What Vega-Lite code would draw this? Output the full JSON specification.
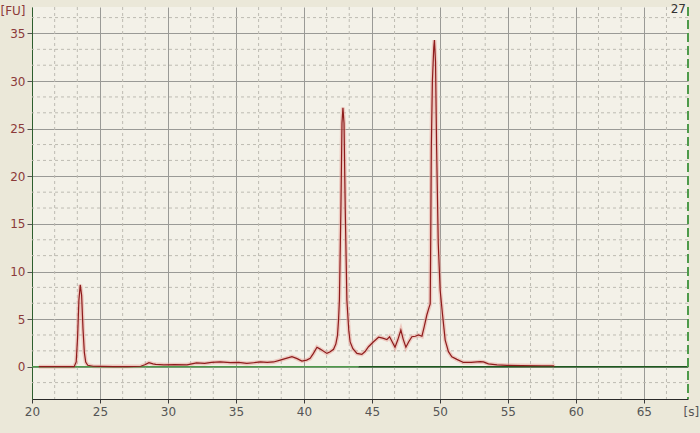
{
  "$schema": "https://vega.github.io/schema/vega-lite/v6.json",
  "width": 656,
  "height": 392,
  "autosize": {"type": "none"},
  "padding": {"left": 32, "top": 7, "right": 12, "bottom": 34},
  "background": "#EBE8D9",
  "config": {
    "view": {"stroke": null, "fill": "#F3F1E8"},
    "font": "DejaVu Sans",
    "axis": {"labelFont": "DejaVu Sans", "titleFont": "DejaVu Sans", "labelFontSize": 11, "titleFontSize": 11, "titleFontWeight": "normal", "labelFlush": false}
  },
  "datasets": {
    "trace": [
      {"t": 20.5, "v": 0}, {"t": 23.1, "v": 0}, {"t": 23.25, "v": 0.5}, {"t": 23.35, "v": 3}, {"t": 23.45, "v": 7},
      {"t": 23.55, "v": 8.6}, {"t": 23.65, "v": 7.5}, {"t": 23.75, "v": 4}, {"t": 23.85, "v": 1.5}, {"t": 23.95, "v": 0.5},
      {"t": 24.1, "v": 0.15}, {"t": 24.5, "v": 0.05}, {"t": 25, "v": 0.03}, {"t": 26, "v": 0.02}, {"t": 27, "v": 0.02},
      {"t": 28, "v": 0.05}, {"t": 28.3, "v": 0.2}, {"t": 28.6, "v": 0.42}, {"t": 28.9, "v": 0.3}, {"t": 29.1, "v": 0.25},
      {"t": 29.7, "v": 0.2}, {"t": 30.5, "v": 0.22}, {"t": 31.4, "v": 0.2}, {"t": 32.1, "v": 0.4}, {"t": 32.7, "v": 0.35},
      {"t": 33.2, "v": 0.45}, {"t": 33.85, "v": 0.5}, {"t": 34.6, "v": 0.42}, {"t": 35.2, "v": 0.45}, {"t": 35.8, "v": 0.35},
      {"t": 36.3, "v": 0.42}, {"t": 36.8, "v": 0.5}, {"t": 37.3, "v": 0.45}, {"t": 37.77, "v": 0.5}, {"t": 38.26, "v": 0.7},
      {"t": 38.5, "v": 0.8}, {"t": 39.12, "v": 1.05}, {"t": 39.5, "v": 0.85}, {"t": 39.85, "v": 0.6}, {"t": 40.2, "v": 0.7},
      {"t": 40.46, "v": 0.88}, {"t": 40.7, "v": 1.4}, {"t": 40.96, "v": 2.04}, {"t": 41.2, "v": 1.85}, {"t": 41.69, "v": 1.4},
      {"t": 41.9, "v": 1.55}, {"t": 42.18, "v": 1.83}, {"t": 42.35, "v": 2.4}, {"t": 42.47, "v": 3.3}, {"t": 42.55, "v": 5},
      {"t": 42.61, "v": 7}, {"t": 42.72, "v": 16.5}, {"t": 42.8, "v": 25.6}, {"t": 42.87, "v": 27.2}, {"t": 42.95, "v": 25.6},
      {"t": 43.04, "v": 16.5}, {"t": 43.16, "v": 7}, {"t": 43.3, "v": 3.8}, {"t": 43.4, "v": 2.6}, {"t": 43.6, "v": 1.9},
      {"t": 43.9, "v": 1.4}, {"t": 44.26, "v": 1.3}, {"t": 44.5, "v": 1.6}, {"t": 44.75, "v": 2.1}, {"t": 45.1, "v": 2.6},
      {"t": 45.49, "v": 3.1}, {"t": 45.8, "v": 3.0}, {"t": 46.1, "v": 2.85}, {"t": 46.3, "v": 3.15}, {"t": 46.5, "v": 2.6},
      {"t": 46.7, "v": 2.04}, {"t": 46.9, "v": 2.8}, {"t": 47.13, "v": 3.85}, {"t": 47.3, "v": 2.9}, {"t": 47.5, "v": 2.04},
      {"t": 47.7, "v": 2.6}, {"t": 47.94, "v": 3.15}, {"t": 48.2, "v": 3.2}, {"t": 48.43, "v": 3.33}, {"t": 48.68, "v": 3.2},
      {"t": 48.85, "v": 4.2}, {"t": 49.04, "v": 5.43}, {"t": 49.2, "v": 6.2}, {"t": 49.29, "v": 6.6}, {"t": 49.33, "v": 14},
      {"t": 49.37, "v": 23}, {"t": 49.45, "v": 30}, {"t": 49.55, "v": 33.5}, {"t": 49.6, "v": 34.3}, {"t": 49.68, "v": 32},
      {"t": 49.76, "v": 23}, {"t": 49.88, "v": 13}, {"t": 50.02, "v": 8.05}, {"t": 50.2, "v": 5.4}, {"t": 50.39, "v": 2.8},
      {"t": 50.63, "v": 1.58}, {"t": 50.88, "v": 1.05}, {"t": 51.25, "v": 0.77}, {"t": 51.73, "v": 0.45}, {"t": 52.3, "v": 0.45},
      {"t": 52.96, "v": 0.53}, {"t": 53.2, "v": 0.5}, {"t": 53.57, "v": 0.3}, {"t": 54.2, "v": 0.2}, {"t": 54.93, "v": 0.15},
      {"t": 56, "v": 0.12}, {"t": 57.5, "v": 0.1}, {"t": 58.35, "v": 0.1}, {"t": 58.4, "v": 0.02}
    ],
    "xminor": [
      {"x": 21.667}, {"x": 23.333}, {"x": 26.667}, {"x": 28.333}, {"x": 31.667}, {"x": 33.333}, {"x": 36.667}, {"x": 38.333},
      {"x": 41.667}, {"x": 43.333}, {"x": 46.667}, {"x": 48.333}, {"x": 51.667}, {"x": 53.333}, {"x": 56.667}, {"x": 58.333},
      {"x": 61.667}, {"x": 63.333}, {"x": 66.667}
    ],
    "yminor": [
      {"y": -1.667}, {"y": 1.667}, {"y": 3.333}, {"y": 6.667}, {"y": 8.333}, {"y": 11.667}, {"y": 13.333}, {"y": 16.667},
      {"y": 18.333}, {"y": 21.667}, {"y": 23.333}, {"y": 26.667}, {"y": 28.333}, {"y": 31.667}, {"y": 33.333}, {"y": 36.667}
    ],
    "base": [
      {"x": 20, "x2": 44, "seg": "a"},
      {"x": 44, "x2": 68.25, "seg": "b"}
    ],
    "marker": [{"x": 68.25, "label": "27"}]
  },
  "layer": [
    {
      "data": {"name": "xminor"},
      "mark": {"type": "rule", "color": "#BDBBB2", "strokeDash": [3, 3], "strokeWidth": 1},
      "encoding": {"x": {"field": "x", "type": "quantitative", "scale": {"domain": [20, 68.25], "nice": false, "zero": false}}}
    },
    {
      "data": {"name": "yminor"},
      "mark": {"type": "rule", "color": "#BDBBB2", "strokeDash": [3, 3], "strokeWidth": 1},
      "encoding": {"y": {"field": "y", "type": "quantitative", "scale": {"domain": [-3.39, 37.78], "nice": false, "zero": false}}}
    },
    {
      "data": {"name": "trace"},
      "mark": {"type": "line", "color": "#E7A79E", "strokeWidth": 4, "opacity": 0.55, "interpolate": "linear"},
      "encoding": {
        "x": {"field": "t", "type": "quantitative", "scale": {"domain": [20, 68.25], "nice": false, "zero": false},
          "axis": {"values": [20, 25, 30, 35, 40, 45, 50, 55, 60, 65], "grid": true, "gridColor": "#9A9A96", "gridWidth": 1,
            "domainColor": "#2A2A2A", "tickColor": "#3A3A3A", "tickSize": 4, "labelPadding": 3, "labelColor": "#555555", "labelFontSize": 12,
            "title": "[s]", "titleColor": "#555555", "titleFontSize": 12, "titleX": 651, "titleY": 12, "titleAlign": "left", "titleBaseline": "middle", "titleAnchor": null}},
        "y": {"field": "v", "type": "quantitative", "scale": {"domain": [-3.39, 37.78], "nice": false, "zero": false},
          "axis": {"values": [0, 5, 10, 15, 20, 25, 30, 35], "grid": true, "gridColor": "#9A9A96", "gridWidth": 1,
            "domainColor": "#2E5E2E", "tickColor": "#555555", "tickSize": 5, "labelPadding": 2, "labelColor": "#8B3A3A", "labelFontSize": 12,
            "title": "[FU]", "titleColor": "#8B3A3A", "titleFontSize": 12, "titleAngle": 0, "titleX": -32, "titleY": 3, "titleAlign": "left", "titleBaseline": "middle", "titleAnchor": null}}
      }
    },
    {
      "data": {"name": "base"},
      "mark": {"type": "rule", "strokeWidth": 1.5},
      "encoding": {
        "x": {"field": "x", "type": "quantitative", "scale": {"domain": [20, 68.25], "nice": false, "zero": false}},
        "x2": {"field": "x2"},
        "y": {"datum": 0, "type": "quantitative", "scale": {"domain": [-3.39, 37.78], "nice": false, "zero": false}},
        "color": {"field": "seg", "type": "nominal", "scale": {"domain": ["a", "b"], "range": ["#4E9A4A", "#1E5A1E"]}, "legend": null}
      }
    },
    {
      "data": {"name": "trace"},
      "mark": {"type": "line", "color": "#8E1C1C", "strokeWidth": 1.2, "interpolate": "linear"},
      "encoding": {
        "x": {"field": "t", "type": "quantitative", "scale": {"domain": [20, 68.25], "nice": false, "zero": false}},
        "y": {"field": "v", "type": "quantitative", "scale": {"domain": [-3.39, 37.78], "nice": false, "zero": false}}
      }
    },
    {
      "data": {"name": "marker"},
      "mark": {"type": "rule", "color": "#4E9A4A", "strokeWidth": 2, "strokeDash": [9, 4]},
      "encoding": {"x": {"field": "x", "type": "quantitative", "scale": {"domain": [20, 68.25], "nice": false, "zero": false}}}
    },
    {
      "data": {"name": "marker"},
      "mark": {"type": "text", "align": "right", "baseline": "alphabetic", "fontSize": 12, "color": "#333333", "dx": -2},
      "encoding": {
        "x": {"field": "x", "type": "quantitative", "scale": {"domain": [20, 68.25], "nice": false, "zero": false}},
        "y": {"datum": 37.15, "type": "quantitative", "scale": {"domain": [-3.39, 37.78], "nice": false, "zero": false}},
        "text": {"field": "label"}
      }
    }
  ]
}
